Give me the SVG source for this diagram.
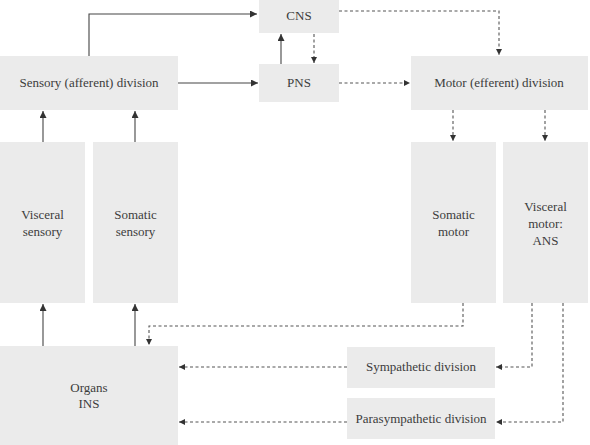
<svg xmlns="http://www.w3.org/2000/svg" width="590" height="445" viewBox="0 0 590 445">
<style>
.box{fill:#ebebeb;}
text{font-family:'Liberation Serif','DejaVu Serif','Times New Roman',serif;font-size:13px;fill:#3c3c3c;text-anchor:middle;}
.s{fill:none;stroke:#444;stroke-width:1.1;}
.d{fill:none;stroke:#555;stroke-width:1.1;stroke-dasharray:3 2.5;}
</style>
<defs>
<marker id="a" viewBox="0 0 10 10" refX="10" refY="5" markerWidth="9" markerHeight="7" markerUnits="userSpaceOnUse" orient="auto">
<path d="M0,0 L10,5 L0,10 z" fill="#333"/>
</marker>
<marker id="b" viewBox="0 0 10 10" refX="10" refY="5" markerWidth="7" markerHeight="6" markerUnits="userSpaceOnUse" orient="auto">
<path d="M0,0 L10,5 L0,10 z" fill="#333"/>
</marker>
</defs>
<rect width="590" height="445" fill="#fff"/>
<g id="cns"><rect class="box" x="259" y="0" width="80" height="33"/><text x="299" y="20">CNS</text></g>
<g id="pns"><rect class="box" x="259" y="64" width="80" height="38"/><text x="299" y="87">PNS</text></g>
<g id="sensory"><rect class="box" x="0" y="56" width="178" height="54"/><text x="89" y="87">Sensory (afferent) division</text></g>
<g id="motor"><rect class="box" x="411" y="56" width="177" height="54"/><text x="499" y="87">Motor (efferent) division</text></g>
<g id="visceral-sensory"><rect class="box" x="0" y="142" width="85" height="161"/><text x="42.5" y="219">Visceral</text><text x="42.5" y="236">sensory</text></g>
<g id="somatic-sensory"><rect class="box" x="93" y="142" width="85" height="161"/><text x="135.5" y="219">Somatic</text><text x="135.5" y="236">sensory</text></g>
<g id="somatic-motor"><rect class="box" x="411" y="142" width="85" height="161"/><text x="453.5" y="219">Somatic</text><text x="453.5" y="236">motor</text></g>
<g id="visceral-motor"><rect class="box" x="503" y="142" width="85" height="161"/><text x="545.5" y="211">Visceral</text><text x="545.5" y="228">motor:</text><text x="545.5" y="245">ANS</text></g>
<g id="organs"><rect class="box" x="0" y="346" width="178" height="99"/><text x="89" y="392">Organs</text><text x="89" y="408">INS</text></g>
<g id="sympathetic"><rect class="box" x="347" y="347" width="148" height="41"/><text x="421" y="371">Sympathetic division</text></g>
<g id="parasympathetic"><rect class="box" x="347" y="398" width="148" height="41"/><text x="421" y="423">Parasympathetic division</text></g>
<g id="connectors">
<path class="s" d="M89,56 V14 H257" marker-end="url(#a)"/>
<path class="s" d="M178,83 H258" marker-end="url(#a)"/>
<path class="s" d="M281,64 V34" marker-end="url(#a)"/>
<path class="s" d="M43,142 V111" marker-end="url(#a)"/>
<path class="s" d="M135,142 V111" marker-end="url(#a)"/>
<path class="s" d="M43,346 V304" marker-end="url(#a)"/>
<path class="s" d="M135,346 V304" marker-end="url(#a)"/>
<path class="d" d="M314,34 V63" marker-end="url(#b)"/>
<path class="d" d="M339,11 H499 V55" marker-end="url(#b)"/>
<path class="d" d="M339,83 H410" marker-end="url(#b)"/>
<path class="d" d="M453,110 V141" marker-end="url(#b)"/>
<path class="d" d="M545,110 V141" marker-end="url(#b)"/>
<path class="d" d="M463,303 V326 H149 V345" marker-end="url(#b)"/>
<path class="d" d="M532,303 V367 H496" marker-end="url(#b)"/>
<path class="d" d="M563,303 V422 H496" marker-end="url(#b)"/>
<path class="d" d="M347,367 H179" marker-end="url(#b)"/>
<path class="d" d="M347,422 H179" marker-end="url(#b)"/>
</g>
</svg>
